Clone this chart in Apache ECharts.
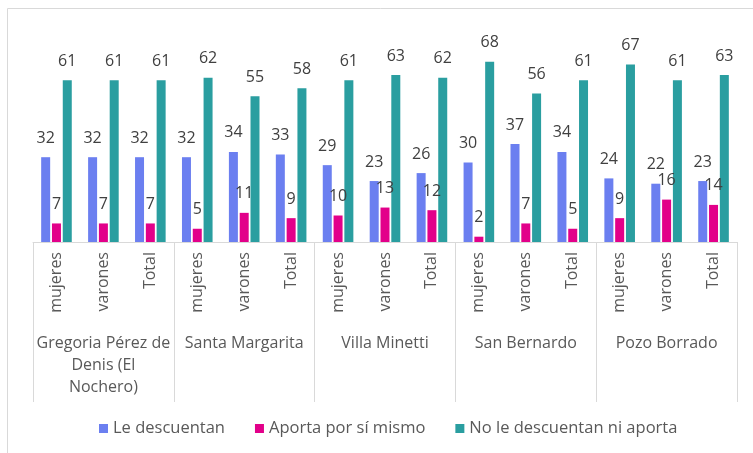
<!DOCTYPE html>
<html lang="es">
<head>
    <meta charset="UTF-8">
    <title>Aportes por localidad</title>
    <script src="https://cdn.jsdelivr.net/npm/echarts@6.0.0/dist/echarts.min.js"></script>
    <style>
        html, body { margin: 0; padding: 0; background: #fff; }
        #chart { width: 753px; height: 453px; }
    </style>
</head>
<body>
<div id="chart"></div>
<script>
    // categorias (nivel inferior y grupos)
    var sexos = ['mujeres', 'varones', 'Total'];
    var localidades = ['Gregoria Pérez de\nDenis (El\nNochero)', 'Santa Margarita', 'Villa Minetti', 'San Bernardo', 'Pozo Borrado'];

    // series
    var leDescuentan = [32, 32, 32, 32, 34, 33, 29, 23, 26, 30, 37, 34, 24, 22, 23];
    var aportaSiMismo = [7, 7, 7, 5, 11, 9, 10, 13, 12, 2, 7, 5, 9, 16, 14];
    var noDescuentanNiAporta = [61, 61, 61, 62, 55, 58, 61, 63, 62, 68, 56, 61, 67, 61, 63];

    var categorias = [];
    localidades.forEach(function () {
        sexos.forEach(function (s) { categorias.push(s); });
    });

    var fuente = '"Open Sans", sans-serif';
    var etiqueta = {
        show: true,
        position: 'top',
        distance: 11,
        color: '#404040',
        fontSize: 16,
        fontFamily: fuente
    };

    var myChart = echarts.init(document.getElementById('chart'));
    var option = {
        animation: false,
        color: ['#6b7ff0', '#e2008a', '#2a9ea0'],
        graphic: [{
            type: 'rect',
            shape: { x: 7.5, y: 8.5, width: 800, height: 500 },
            style: { fill: 'none', stroke: '#d9d9d9', lineWidth: 1 },
            silent: true
        }],
        grid: { left: 33, right: 16, top: 30, bottom: 211 },
        legend: {
            left: 94,
            top: 415,
            itemWidth: 9,
            itemHeight: 9,
            itemGap: 30,
            icon: 'rect',
            textStyle: { color: '#595959', fontSize: 16.5, fontFamily: fuente },
            data: ['Le descuentan', 'Aporta por sí mismo', 'No le descuentan ni aporta']
        },
        xAxis: [{
            type: 'category',
            data: categorias,
            position: 'bottom',
            axisLine: { lineStyle: { color: '#d9d9d9' } },
            axisTick: { show: false },
            axisLabel: {
                rotate: 90,
                interval: 0,
                margin: 10,
                color: '#595959',
                fontSize: 16,
                fontFamily: fuente
            }
        }, {
            type: 'category',
            data: localidades,
            position: 'bottom',
            offset: 0,
            axisLine: { show: false },
            axisTick: { show: true, length: 160, lineStyle: { color: '#d9d9d9' } },
            axisLabel: {
                interval: 0,
                margin: 90,
                lineHeight: 22,
                color: '#595959',
                fontSize: 16,
                fontFamily: fuente,
                verticalAlign: 'top'
            }
        }],
        yAxis: {
            type: 'value',
            min: 0,
            max: 80,
            show: false,
            splitLine: { show: false }
        },
        series: [{
            name: 'Le descuentan',
            type: 'bar',
            barWidth: 9,
            barGap: '20%',
            label: etiqueta,
            data: leDescuentan
        }, {
            name: 'Aporta por sí mismo',
            type: 'bar',
            barWidth: 9,
            barGap: '20%',
            label: etiqueta,
            data: aportaSiMismo
        }, {
            name: 'No le descuentan ni aporta',
            type: 'bar',
            barWidth: 9,
            barGap: '20%',
            label: etiqueta,
            data: noDescuentanNiAporta
        }]
    };
    myChart.setOption(option);
</script>
</body>
</html>
